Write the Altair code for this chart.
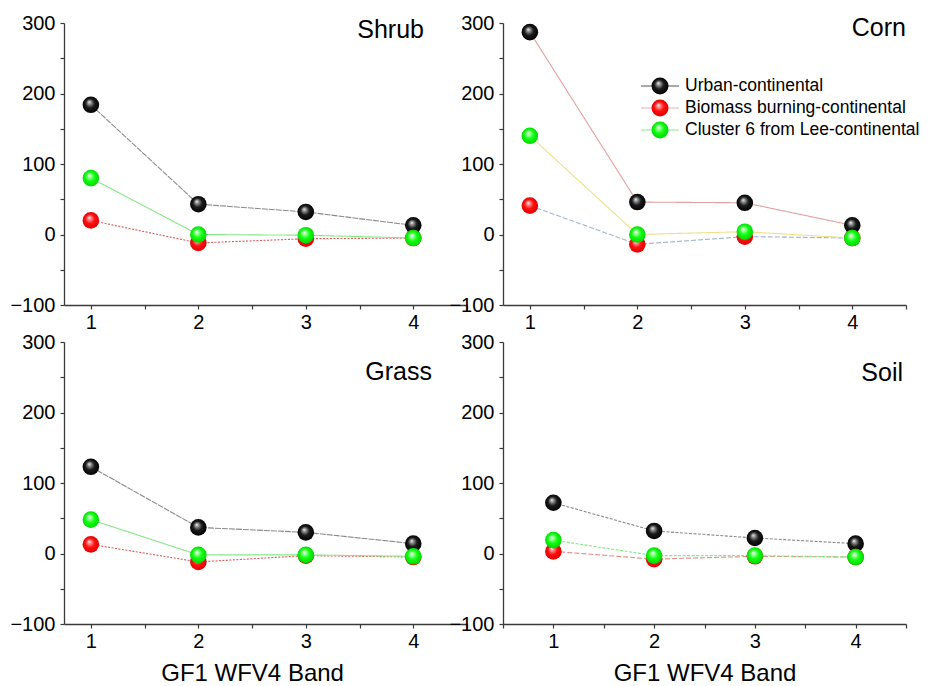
import altair as alt
import pandas as pd

# ---- data ----
bands = [1, 2, 3, 4]
series = ["Urban-continental", "Biomass burning-continental", "Cluster 6 from Lee-continental"]
panels = ["Shrub", "Corn", "Grass", "Soil"]

shrub_urban = [184, 43, 32, 13]
shrub_biomass = [20, -12, -6, -5]
shrub_cluster = [80, 0, -1, -5]

corn_urban = [287, 46, 45, 13]
corn_biomass = [41, -14, -3, -5]
corn_cluster = [140, 0, 4, -5]

grass_urban = [123, 37, 30, 14]
grass_biomass = [13, -12, -3, -5]
grass_cluster = [48, -2, -2, -4]

soil_urban = [72, 32, 22, 14]
soil_biomass = [3, -8, -4, -5]
soil_cluster = [19, -3, -3, -5]

values = {
    "Shrub": [shrub_urban, shrub_biomass, shrub_cluster],
    "Corn": [corn_urban, corn_biomass, corn_cluster],
    "Grass": [grass_urban, grass_biomass, grass_cluster],
    "Soil": [soil_urban, soil_biomass, soil_cluster],
}

y_minor = [-100, -50, 0, 50, 100, 150, 200, 250, 300]
x_minor = [0.5, 1, 1.5, 2, 2.5, 3, 3.5, 4, 4.5]
x_axis_title = "GF1 WFV4 Band"

# ---- styles ----
FONT = "Liberation Sans"
AX = "#3a3a3a"
W, H = 403, 282

x_domains = {"Shrub": [0.75, 4.5], "Corn": [0.75, 4.5], "Grass": [0.75, 4.5], "Soil": [0.5, 4.5]}

line_styles = {
    "Shrub": [("#8a8a8a", [6, 1]), ("#e05a5a", [2, 1.5]), ("#86e886", [1, 0])],
    "Corn": [("#e4a0a0", [1, 0]), ("#9fb4cc", [5, 2]), ("#efe08c", [1, 0])],
    "Grass": [("#8a8a8a", [6, 1]), ("#e05a5a", [2, 1.5]), ("#86e886", [1, 0])],
    "Soil": [("#8a8a8a", [3, 1.5]), ("#e88a8a", [5, 2]), ("#86e886", [3, 1.5])],
}


def ball(base, mid, edge):
    return alt.RadialGradient(
        gradient="radial",
        x1=0.4, y1=0.33, r1=0.0,
        x2=0.5, y2=0.5, r2=0.55,
        stops=[
            alt.GradientStop(offset=0.0, color="#ffffff"),
            alt.GradientStop(offset=0.16, color=mid),
            alt.GradientStop(offset=0.5, color=base),
            alt.GradientStop(offset=1.0, color=edge),
        ],
    )


balls = [
    ball("#1a1a1a", "#a0a0a0", "#000000"),
    ball("#ff1010", "#ff9a9a", "#d80000"),
    ball("#10ff10", "#b0ffb0", "#00d000"),
]
legend_line_colors = ["#555555", "#f0b0b0", "#8ee88e"]

BALL_SIZE = 275


def panel(name):
    xdom = x_domains[name]
    x_title = x_axis_title if name in ("Grass", "Soil") else None
    title_x = (2.5 - xdom[0]) / (xdom[1] - xdom[0]) * W
    xaxis_kw = dict(
        values=[v for v in x_minor if xdom[0] <= v <= xdom[1]],
        labelExpr="datum.value % 1 === 0 ? format(datum.value, 'd') : ''",
        tickSize=4,
        labelFontSize=20,
        labelFont=FONT,
        labelColor="#000000",
        labelPadding=3,
        labelFlush=False,
        domainColor=AX,
        domainWidth=1.3,
        tickColor=AX,
        tickWidth=1.2,
        grid=False,
    )
    if x_title:
        xaxis = alt.Axis(
            title=x_title, titleX=title_x, titleFontSize=24, titleFont=FONT,
            titleFontWeight="normal", titleColor="#000000", titlePadding=10, **xaxis_kw
        )
    else:
        xaxis = alt.Axis(title=None, **xaxis_kw)
    yaxis = alt.Axis(
        values=y_minor,
        labelExpr="datum.value % 100 === 0 ? datum.label : ''",
        tickSize=4,
        title=None,
        labelFontSize=20,
        labelFont=FONT,
        labelColor="#000000",
        labelPadding=5,
        domainColor=AX,
        domainWidth=1.3,
        tickColor=AX,
        tickWidth=1.2,
        grid=False,
    )
    xs = alt.Scale(domain=xdom, nice=False, zero=False)
    ys = alt.Scale(domain=[-100, 300], nice=False, zero=False)

    layers = []
    # lines
    for i, s in enumerate(series):
        df = pd.DataFrame({"band": bands, "value": values[name][i], "series": s})
        col, dash = line_styles[name][i]
        layers.append(
            alt.Chart(df).mark_line(color=col, strokeWidth=1.1, strokeDash=dash).encode(
                x=alt.X("band:Q", scale=xs, axis=xaxis),
                y=alt.Y("value:Q", scale=ys, axis=yaxis),
            )
        )
    # balls
    for i, s in enumerate(series):
        df = pd.DataFrame({"band": bands, "value": values[name][i], "series": s})
        layers.append(
            alt.Chart(df)
            .mark_point(filled=True, shape="circle", size=BALL_SIZE, opacity=1, color=balls[i], strokeWidth=0)
            .encode(
                x=alt.X("band:Q", scale=xs, axis=xaxis),
                y=alt.Y("value:Q", scale=ys, axis=yaxis),
            )
        )
    # panel label
    label_df = pd.DataFrame({"t": [name]})
    right_off = {"Shrub": 43, "Corn": 0, "Grass": 35, "Soil": 3}[name]
    ypos = {"Shrub": 7, "Corn": 5, "Grass": 30, "Soil": 31}[name]
    layers.append(
        alt.Chart(label_df)
        .mark_text(font=FONT, fontSize=25, align="right", baseline="middle", color="#000000")
        .encode(text="t:N", x=alt.value(W - right_off), y=alt.value(ypos))
    )
    # legend in Corn panel
    if name == "Corn":
        for i, s in enumerate(series):
            ly = 63 + 22 * i
            ldf = pd.DataFrame({"label": [s]})
            layers.append(
                alt.Chart(ldf)
                .mark_rule(color=legend_line_colors[i], strokeWidth=1.2)
                .encode(x=alt.value(138), x2=alt.value(176), y=alt.value(ly))
            )
            layers.append(
                alt.Chart(ldf)
                .mark_point(filled=True, shape="circle", size=BALL_SIZE + 15, opacity=1, color=balls[i], strokeWidth=0)
                .encode(x=alt.value(157), y=alt.value(ly))
            )
            layers.append(
                alt.Chart(ldf)
                .mark_text(font=FONT, fontSize=17.5, align="left", baseline="middle", color="#000000")
                .encode(text="label:N", x=alt.value(182), y=alt.value(ly))
            )
    return alt.layer(*layers).properties(width=W, height=H)


chart = (
    alt.concat(*[panel(p) for p in panels], columns=2, spacing={"row": 37, "column": 36}, bounds="flush")
    .properties(padding={"left": 1, "top": 5, "right": 5, "bottom": 0}, background="white")
    .configure_view(stroke=None)
)

chart.save("out.html", embed_options={"renderer": "svg", "actions": False})
